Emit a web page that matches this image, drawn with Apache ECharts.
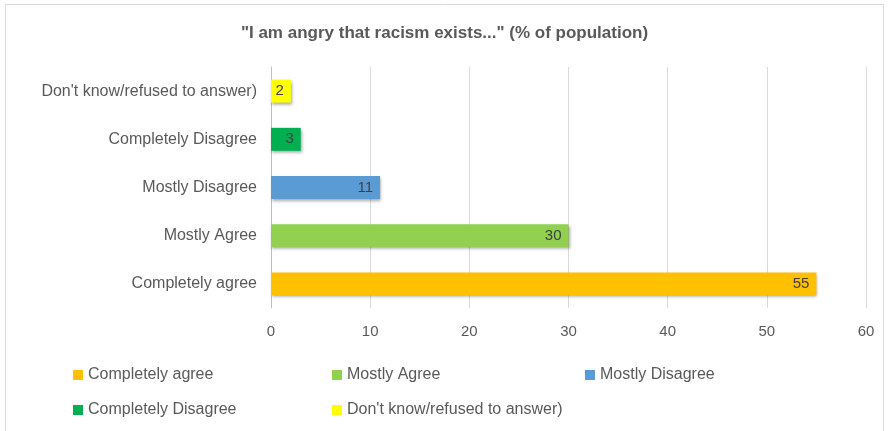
<!DOCTYPE html>
<html>
<head>
<meta charset="utf-8">
<script src="https://cdn.jsdelivr.net/npm/echarts@6/dist/echarts.min.js"></script>
<style>
  html, body { margin: 0; padding: 0; background: #fff; }
  #chart { width: 889px; height: 431px; }
</style>
</head>
<body>
<div id="chart"></div>
<script>
// answers, bottom to top as drawn
var categories = ['Completely agree', 'Mostly Agree', 'Mostly Disagree', 'Completely Disagree', "Don't know/refused to answer)"];
var values = [55, 30, 11, 3, 2];
var colors = ['#FFC000', '#92D050', '#5B9BD5', '#00B050', '#FFFF00'];
var xTicks = [0, 10, 20, 30, 40, 50, 60];

var chart = echarts.init(document.getElementById('chart'));

var font = 'Liberation Sans';

var series = [];
for (var i = 0; i < categories.length; i++) {
    var d = [];
    for (var j = 0; j < categories.length; j++) {
        d.push(j == i ? values[i] : null);
    }
    series.push({
        name: categories[i],
        type: 'bar',
        stack: 'all',
        barWidth: 23,
        data: d,
        itemStyle: {
            color: colors[i],
            shadowColor: 'rgba(0,0,0,0.35)',
            shadowBlur: 3,
            shadowOffsetX: 1,
            shadowOffsetY: 2
        },
        label: {
            show: true,
            position: 'insideRight',
            color: '#404040',
            fontSize: 15,
            fontFamily: font,
            distance: 7
        }
    });
}

// legend slots: two rows, three columns
var legendPos = [[68, 362], [327, 362], [580, 362], [68, 397], [327, 397]];
var legends = [];
for (var k = 0; k < categories.length; k++) {
    legends.push({
        left: legendPos[k][0],
        top: legendPos[k][1],
        itemWidth: 10,
        itemHeight: 10,
        itemGap: 4,
        icon: 'rect',
        data: [categories[k]],
        textStyle: { color: '#595959', fontSize: 16, fontFamily: font }
    });
}

var option = {
    animation: false,
    title: {
        text: '"I am angry that racism exists..." (% of population)',
        left: 'center',
        top: 20,
        textStyle: {
            color: '#595959',
            fontSize: 17,
            fontWeight: 'bold',
            fontFamily: font
        }
    },
    graphic: [{
        type: 'rect',
        shape: { x: 5.5, y: 4.5, width: 878, height: 440 },
        style: { fill: 'none', stroke: '#d9d9d9', lineWidth: 1 },
        silent: true
    }],
    legend: legends,
    grid: { left: 271, right: 23, top: 67, bottom: 123, containLabel: false },
    xAxis: {
        type: 'value',
        min: 0,
        max: 60,
        interval: 10,
        axisLine: { show: false },
        axisTick: { show: false },
        splitLine: { lineStyle: { color: '#d9d9d9' } },
        axisLabel: {
            color: '#595959',
            fontSize: 15,
            fontFamily: font,
            margin: 16,
            formatter: function (v) { return xTicks.indexOf(v) >= 0 ? String(v) : ''; }
        }
    },
    yAxis: {
        type: 'category',
        data: categories,
        axisLine: { lineStyle: { color: '#bfbfbf' } },
        axisTick: { show: false },
        axisLabel: {
            color: '#595959',
            fontSize: 16,
            fontFamily: font,
            margin: 14
        }
    },
    series: series
};

chart.setOption(option);
</script>
</body>
</html>
